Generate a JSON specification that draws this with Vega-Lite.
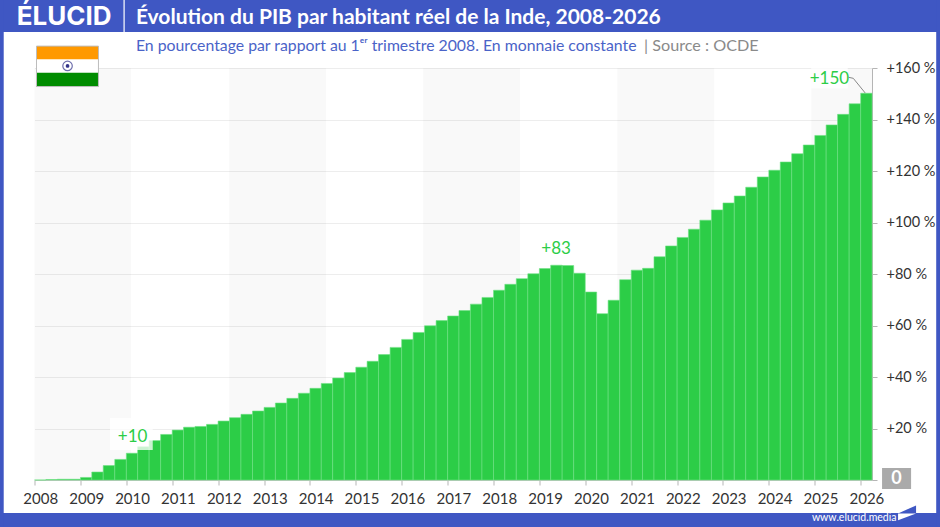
{
"$schema":"https://vega.github.io/schema/vega-lite/v6.json",
"width":837.5,"height":412,"autosize":"none",
"padding":{"left":34.5,"top":68,"right":68,"bottom":47},
"background":"white",
"config":{"view":{"stroke":null}},
"data":{"values":[{}]},
"datasets":{
"bands":[{"start":"2008-01-01","end":"2010-02-07"},{"start":"2012-03-28","end":"2014-05-09"},{"start":"2016-06-19","end":"2018-08-01"},{"start":"2020-09-11","end":"2022-10-23"},{"start":"2024-12-03","end":"2026-04-01"}],
"gdp":[
{"start":"2008-01-01","end":"2008-04-01","v":0},{"start":"2008-04-01","end":"2008-07-01","v":0.2},{"start":"2008-07-01","end":"2008-10-01","v":0.3},{"start":"2008-10-01","end":"2009-01-01","v":0.3},
{"start":"2009-01-01","end":"2009-04-01","v":1.0},{"start":"2009-04-01","end":"2009-07-01","v":3.1},{"start":"2009-07-01","end":"2009-10-01","v":5.6},{"start":"2009-10-01","end":"2010-01-01","v":8.0},
{"start":"2010-01-01","end":"2010-04-01","v":10.4},{"start":"2010-04-01","end":"2010-07-01","v":12.9},{"start":"2010-07-01","end":"2010-10-01","v":15.3},{"start":"2010-10-01","end":"2011-01-01","v":17.7},
{"start":"2011-01-01","end":"2011-04-01","v":19.4},{"start":"2011-04-01","end":"2011-07-01","v":20.5},{"start":"2011-07-01","end":"2011-10-01","v":20.8},{"start":"2011-10-01","end":"2012-01-01","v":21.6},
{"start":"2012-01-01","end":"2012-04-01","v":22.9},{"start":"2012-04-01","end":"2012-07-01","v":24.2},{"start":"2012-07-01","end":"2012-10-01","v":25.5},{"start":"2012-10-01","end":"2013-01-01","v":26.8},
{"start":"2013-01-01","end":"2013-04-01","v":28.2},{"start":"2013-04-01","end":"2013-07-01","v":29.9},{"start":"2013-07-01","end":"2013-10-01","v":31.7},{"start":"2013-10-01","end":"2014-01-01","v":33.7},
{"start":"2014-01-01","end":"2014-04-01","v":35.6},{"start":"2014-04-01","end":"2014-07-01","v":37.5},{"start":"2014-07-01","end":"2014-10-01","v":39.6},{"start":"2014-10-01","end":"2015-01-01","v":41.7},
{"start":"2015-01-01","end":"2015-04-01","v":43.8},{"start":"2015-04-01","end":"2015-07-01","v":46.1},{"start":"2015-07-01","end":"2015-10-01","v":48.7},{"start":"2015-10-01","end":"2016-01-01","v":51.5},
{"start":"2016-01-01","end":"2016-04-01","v":54.6},{"start":"2016-04-01","end":"2016-07-01","v":57.3},{"start":"2016-07-01","end":"2016-10-01","v":59.9},{"start":"2016-10-01","end":"2017-01-01","v":61.9},
{"start":"2017-01-01","end":"2017-04-01","v":63.7},{"start":"2017-04-01","end":"2017-07-01","v":65.8},{"start":"2017-07-01","end":"2017-10-01","v":68.3},{"start":"2017-10-01","end":"2018-01-01","v":70.9},
{"start":"2018-01-01","end":"2018-04-01","v":73.7},{"start":"2018-04-01","end":"2018-07-01","v":76.0},{"start":"2018-07-01","end":"2018-10-01","v":78.2},{"start":"2018-10-01","end":"2019-01-01","v":80.1},
{"start":"2019-01-01","end":"2019-04-01","v":82.1},{"start":"2019-04-01","end":"2019-07-01","v":83.4},{"start":"2019-07-01","end":"2019-10-01","v":83.3},{"start":"2019-10-01","end":"2020-01-01","v":80.3},
{"start":"2020-01-01","end":"2020-04-01","v":73.0},{"start":"2020-04-01","end":"2020-07-01","v":64.6},{"start":"2020-07-01","end":"2020-10-01","v":69.8},{"start":"2020-10-01","end":"2021-01-01","v":77.8},
{"start":"2021-01-01","end":"2021-04-01","v":81.5},{"start":"2021-04-01","end":"2021-07-01","v":82.2},{"start":"2021-07-01","end":"2021-10-01","v":86.7},{"start":"2021-10-01","end":"2022-01-01","v":90.9},
{"start":"2022-01-01","end":"2022-04-01","v":94.2},{"start":"2022-04-01","end":"2022-07-01","v":97.4},{"start":"2022-07-01","end":"2022-10-01","v":100.9},{"start":"2022-10-01","end":"2023-01-01","v":104.9},
{"start":"2023-01-01","end":"2023-04-01","v":107.6},{"start":"2023-04-01","end":"2023-07-01","v":110.3},{"start":"2023-07-01","end":"2023-10-01","v":113.7},{"start":"2023-10-01","end":"2024-01-01","v":117.7},
{"start":"2024-01-01","end":"2024-04-01","v":120.3},{"start":"2024-04-01","end":"2024-07-01","v":123.5},{"start":"2024-07-01","end":"2024-10-01","v":126.7},{"start":"2024-10-01","end":"2025-01-01","v":130.1},
{"start":"2025-01-01","end":"2025-04-01","v":133.8},{"start":"2025-04-01","end":"2025-07-01","v":137.9},{"start":"2025-07-01","end":"2025-10-01","v":142.0},{"start":"2025-10-01","end":"2026-01-01","v":146.1},
{"start":"2026-01-01","end":"2026-04-01","v":150.2}
]},
"layer":[
{"data":{"name":"bands"},"mark":{"type":"rect","fill":"black","opacity":0.025},
 "encoding":{"x":{"field":"start","type":"temporal","scale":{"type":"utc","domain":[{"year":2008,"month":1,"date":1,"utc":true},{"year":2026,"month":4,"date":1,"utc":true}]},
   "axis":{"title":null,"tickCount":{"interval":"year","step":1},"format":"%Y","formatType":"utc","labelOffset":5.7,"labelAlign":"center","labelFont":"Lato","labelFontSize":15,"labelColor":"#333","labelPadding":6,"labelOverlap":false,"labelFlush":false,"domainColor":"#c4c4c4","tickColor":"#b5b5b5","tickSize":5,"grid":false}},
  "x2":{"field":"end"},
  "y":{"datum":160,"type":"quantitative","scale":{"domain":[0,160]},
   "axis":{"title":null,"orient":"right","values":[0,20,40,60,80,100,120,140,160],"labelExpr":"datum.value==0?'':'+'+datum.value+' %'","labelFont":"Lato","labelFontSize":14.5,"labelColor":"#333","labelPadding":9,"domainColor":"#b5b5b5","tickColor":"#b5b5b5","tickSize":5,"grid":true,"gridColor":"#ededed","gridWidth":1}},
  "y2":{"datum":0}}},
{"data":{"name":"gdp"},"mark":{"type":"rect","fill":"#2ccd47","stroke":"#6fe085","strokeWidth":0.6},
 "encoding":{"x":{"field":"start","type":"temporal"},"x2":{"field":"end"},"y":{"field":"v","type":"quantitative"},"y2":{"datum":0}}},
{"mark":{"type":"rect","fill":"white","opacity":0.75},"encoding":{"x":{"datum":{"year":2009,"month":8,"date":24,"utc":true},"type":"temporal"},"x2":{"datum":{"year":2010,"month":7,"date":30,"utc":true}},"y":{"datum":24.1,"type":"quantitative"},"y2":{"datum":11.65}}},
{"mark":{"type":"rect","fill":"white","opacity":0.8},"encoding":{"x":{"datum":{"year":2024,"month":12,"date":3,"utc":true},"type":"temporal"},"x2":{"datum":{"year":2025,"month":9,"date":20,"utc":true}},"y":{"datum":160,"type":"quantitative"},"y2":{"datum":152}}},
{"mark":{"type":"text","text":"+10","font":"Lato","fontSize":17,"color":"#2ccd47"},"encoding":{"x":{"datum":{"year":2010,"month":2,"date":20,"utc":true},"type":"temporal"},"y":{"datum":16.8,"type":"quantitative"}}},
{"mark":{"type":"text","text":"+83","font":"Lato","fontSize":17,"color":"#2ccd47"},"encoding":{"x":{"datum":{"year":2019,"month":5,"date":14,"utc":true},"type":"temporal"},"y":{"datum":89.8,"type":"quantitative"}}},
{"mark":{"type":"text","text":"+150","font":"Lato","fontSize":17,"color":"#2ccd47"},"encoding":{"x":{"datum":{"year":2025,"month":4,"date":27,"utc":true},"type":"temporal"},"y":{"datum":155.6,"type":"quantitative"}}},
{"mark":{"type":"rule","color":"#888","strokeWidth":1},"encoding":{"x":{"datum":{"year":2025,"month":9,"date":25,"utc":true},"type":"temporal"},"x2":{"datum":{"year":2025,"month":11,"date":3,"utc":true}},"y":{"datum":156.4,"type":"quantitative"},"y2":{"datum":156}}},
{"mark":{"type":"rule","color":"#888","strokeWidth":1},"encoding":{"x":{"datum":{"year":2025,"month":11,"date":3,"utc":true},"type":"temporal"},"x2":{"datum":{"year":2026,"month":2,"date":6,"utc":true}},"y":{"datum":156,"type":"quantitative"},"y2":{"datum":150.3}}},
{"mark":{"type":"rect","fill":"#aaaaaa"},"encoding":{"x":{"datum":{"year":2026,"month":6,"date":20,"utc":true},"type":"temporal"},"x2":{"datum":{"year":2027,"month":2,"date":6,"utc":true}},"y":{"datum":4.66,"type":"quantitative"},"y2":{"datum":-3.5}}},
{"mark":{"type":"text","text":"0","font":"Lato","fontWeight":"bold","fontSize":18,"color":"white"},"encoding":{"x":{"datum":{"year":2026,"month":10,"date":12,"utc":true},"type":"temporal"},"y":{"datum":0.4,"type":"quantitative"}}},
{"mark":{"type":"rect","fill":"#ff9900"},"encoding":{"x":{"datum":{"year":2008,"month":1,"date":17,"utc":true},"type":"temporal"},"x2":{"datum":{"year":2009,"month":5,"date":24,"utc":true}},"y":{"datum":168.5,"type":"quantitative"},"y2":{"datum":163.3}}},
{"mark":{"type":"rect","fill":"white"},"encoding":{"x":{"datum":{"year":2008,"month":1,"date":17,"utc":true},"type":"temporal"},"x2":{"datum":{"year":2009,"month":5,"date":24,"utc":true}},"y":{"datum":163.3,"type":"quantitative"},"y2":{"datum":158.2}}},
{"mark":{"type":"rect","fill":"#008c00"},"encoding":{"x":{"datum":{"year":2008,"month":1,"date":17,"utc":true},"type":"temporal"},"x2":{"datum":{"year":2009,"month":5,"date":24,"utc":true}},"y":{"datum":158.2,"type":"quantitative"},"y2":{"datum":152.8}}},
{"mark":{"type":"rect","fillOpacity":0,"stroke":"#bdbdbd","strokeWidth":1},"encoding":{"x":{"datum":{"year":2008,"month":1,"date":17,"utc":true},"type":"temporal"},"x2":{"datum":{"year":2009,"month":5,"date":24,"utc":true}},"y":{"datum":168.5,"type":"quantitative"},"y2":{"datum":152.8}}},
{"mark":{"type":"point","shape":"circle","filled":false,"size":90,"stroke":"#33338a","strokeWidth":1.2},"encoding":{"x":{"datum":{"year":2008,"month":9,"date":20,"utc":true},"type":"temporal"},"y":{"datum":160.8,"type":"quantitative"}}},
{"mark":{"type":"point","shape":"circle","filled":true,"size":14,"fill":"#33338a","opacity":1},"encoding":{"x":{"datum":{"year":2008,"month":9,"date":20,"utc":true},"type":"temporal"},"y":{"datum":160.8,"type":"quantitative"}}},
{"mark":{"type":"text","text":"En pourcentage par rapport au 1ᵉʳ trimestre 2008. En monnaie constante","align":"left","font":"Lato","fontSize":15.8,"color":"#4a63c8"},"encoding":{"x":{"datum":{"year":2010,"month":3,"date":18,"utc":true},"type":"temporal"},"y":{"datum":168.6,"type":"quantitative"}}},
{"mark":{"type":"text","text":"|  Source : OCDE","align":"left","font":"Lato","fontSize":16.2,"color":"#8a8a8a"},"encoding":{"x":{"datum":{"year":2021,"month":4,"date":13,"utc":true},"type":"temporal"},"y":{"datum":168.6,"type":"quantitative"}}},
{"mark":{"type":"rect","fill":"#3f57c3"},"encoding":{"x":{"datum":{"year":2007,"month":1,"date":1,"utc":true},"type":"temporal"},"x2":{"datum":{"year":2028,"month":6,"date":1,"utc":true}},"y":{"datum":190,"type":"quantitative"},"y2":{"datum":174}}},
{"mark":{"type":"rect","fill":"#3f57c3"},"encoding":{"x":{"datum":{"year":2007,"month":1,"date":1,"utc":true},"type":"temporal"},"x2":{"datum":{"year":2028,"month":6,"date":1,"utc":true}},"y":{"datum":-12.8,"type":"quantitative"},"y2":{"datum":-20}}},
{"mark":{"type":"rect","fill":"#3f57c3"},"encoding":{"x":{"datum":{"year":2007,"month":1,"date":1,"utc":true},"type":"temporal"},"x2":{"datum":{"year":2007,"month":5,"date":1,"utc":true}},"y":{"datum":190,"type":"quantitative"},"y2":{"datum":-20}}},
{"mark":{"type":"rect","fill":"#3f57c3"},"encoding":{"x":{"datum":{"year":2027,"month":8,"date":25,"utc":true},"type":"temporal"},"x2":{"datum":{"year":2028,"month":6,"date":1,"utc":true}},"y":{"datum":190,"type":"quantitative"},"y2":{"datum":-20}}},
{"mark":{"type":"rule","color":"white","strokeWidth":1.2},"encoding":{"x":{"datum":{"year":2009,"month":12,"date":14,"utc":true},"type":"temporal"},"y":{"datum":186.5,"type":"quantitative"},"y2":{"datum":174}}},
{"mark":{"type":"text","text":"ÉLUCID","align":"left","font":"Inter","fontWeight":"bold","fontSize":26,"color":"white"},"encoding":{"x":{"datum":{"year":2007,"month":8,"date":13,"utc":true},"type":"temporal"},"y":{"datum":179.8,"type":"quantitative"}}},
{"mark":{"type":"text","text":"Évolution du PIB par habitant réel de la Inde, 2008-2026","align":"left","font":"Lato","fontSize":21,"fontWeight":"bold","color":"white"},"encoding":{"x":{"datum":{"year":2010,"month":3,"date":18,"utc":true},"type":"temporal"},"y":{"datum":179.4,"type":"quantitative"}}},
{"mark":{"type":"text","text":"www.elucid.media","font":"Lato","fontSize":10.5,"color":"white"},"encoding":{"x":{"datum":{"year":2025,"month":11,"date":10,"utc":true},"type":"temporal"},"y":{"datum":-14.8,"type":"quantitative"}}},
{"mark":{"type":"point","shape":"M-0.44,0L0.5,-0.42L0.5,0Z","filled":true,"size":1296,"fill":"#3f57c3","opacity":1},"encoding":{"x":{"datum":{"year":2027,"month":1,"date":5,"utc":true},"type":"temporal"},"y":{"datum":-12.8,"type":"quantitative"}}},
{"mark":{"type":"point","shape":"M-0.5,0.41L0.5,0.03L-0.5,0.03Z","filled":true,"size":1296,"fill":"white","opacity":1},"encoding":{"x":{"datum":{"year":2027,"month":1,"date":5,"utc":true},"type":"temporal"},"y":{"datum":-12.8,"type":"quantitative"}}}
]
}
